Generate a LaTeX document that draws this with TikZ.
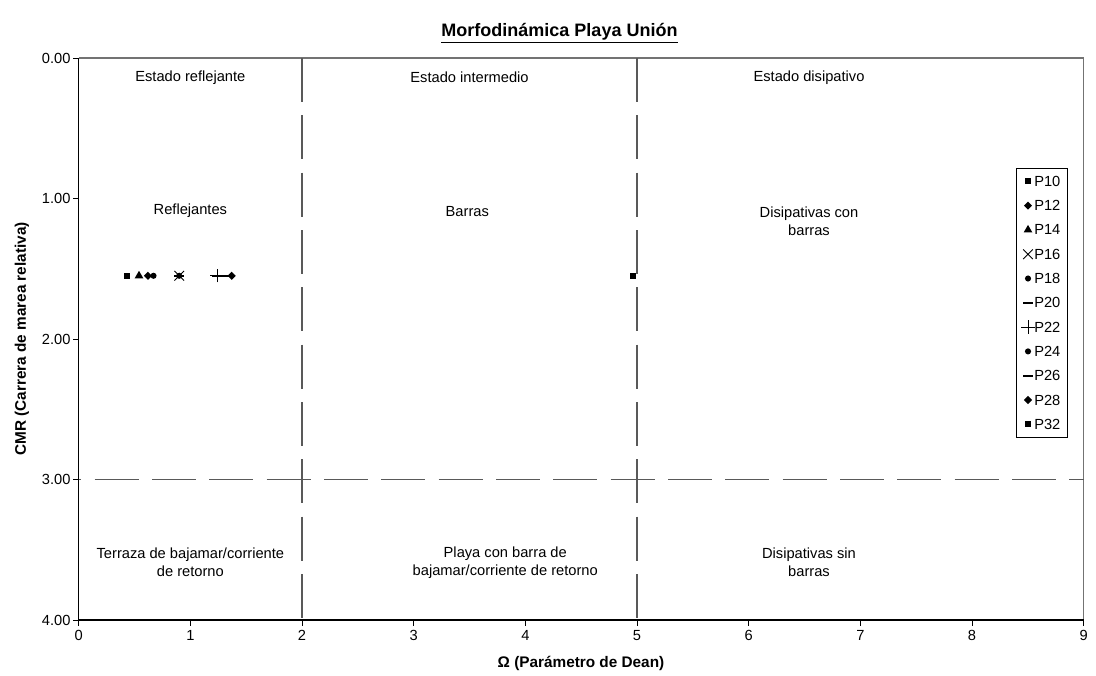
\documentclass[tikz,border=0pt]{standalone}
\usepackage{fontspec}
\setmainfont{Liberation Sans}
\usetikzlibrary{shapes.geometric,shapes.misc}

\begin{document}
\begin{tikzpicture}[x=0.75pt,y=-0.75pt,
  every node/.style={font=\fontsize{11}{13.5}\selectfont,align=center},
  zone/.style={inner sep=1pt},
  divider/.style={draw=black!65,line width=0.9pt,dash pattern=on 33pt off 10pt},
  mksq/.style={rectangle,fill,inner sep=0,minimum size=4.5pt},
  mkdi/.style={diamond,fill,inner sep=0,minimum size=6.3pt},
  mktri/.style={regular polygon,regular polygon sides=3,fill,inner sep=0,minimum size=7.5pt},
  mkx/.style={cross out,draw,line width=0.7pt,inner sep=0,minimum size=6.5pt},
  mkplus/.style={cross out,draw,line width=0.6pt,inner sep=0,minimum size=6.5pt,rotate=45},
  mkci/.style={circle,fill,inner sep=0,minimum size=4.6pt},
  mkdash/.style={rectangle,fill,inner sep=0,minimum width=7.5pt,minimum height=1.4pt}]
\useasboundingbox (0,0) rectangle (1096,675);

% title and axis names
\node[font=\fontsize{13.5}{16}\selectfont\bfseries] (title) at (559.5,33) {\underline{Morfodinámica Playa Unión}};
\node[font=\fontsize{11.5}{14}\selectfont\bfseries] (xname) at (581,663) {Ω (Parámetro de Dean)};
\node[font=\fontsize{11.5}{14}\selectfont\bfseries,rotate=90] (yname) at (22,339) {CMR (Carrera de marea relativa)};

\begin{scope}[shift={(78.7,58)},x=83.75pt,y=-105.375pt]
  % frame and axes
  \draw[black!55,line width=0.8pt] (0,0) -- (9,0) -- (9,4);
  \draw[line width=0.8pt] (0,0) -- (0,4) -- (9,4);
  \foreach \c/\t in {0/0.00,1/1.00,2/2.00,3/3.00,4/4.00}
    \draw (0,\c) -- ++(-4.5pt,0) node[left,inner sep=1.5pt] (ytick-\c) {\t};
  \foreach \v in {0,...,9}
    \draw (\v,4) -- ++(0,-4.5pt) node[below,inner sep=3pt] (xtick-\v) {\v};

  % zone borders
  \draw[divider] (2,0) -- (2,4);
  \draw[divider] (5,0) -- (5,4);
  \draw[divider,dash phase=-12pt] (0,3) -- (9,3);

  % zone labels
  \node[zone] (refl-state) at (1,0.14) {Estado reflejante};
  \node[zone] (inter-state) at (3.5,0.14) {Estado intermedio};
  \node[zone] (disip-state) at (6.54,0.14) {Estado disipativo};
  \node[zone] (refl) at (1,1.09) {Reflejantes};
  \node[zone] (bars) at (3.48,1.09) {Barras};
  \node[zone] (disip-bars) at (6.54,1.16) {Disipativas con\\barras};
  \node[zone] (terrace) at (1,3.59) {Terraza de bajamar/corriente\\de retorno};
  \node[zone] (beach-bar) at (3.82,3.59) {Playa con barra de\\bajamar/corriente de retorno};
  \node[zone] (disip-nobars) at (6.54,3.59) {Disipativas sin\\barras};

  % profiles
  \node[mksq] (P10) at (0.43,1.55) {};
  \node[mktri] (P14) at (0.54,1.55) {};
  \node[mkdi] (P12) at (0.62,1.55) {};
  \node[mkci] (P18) at (0.67,1.55) {};
  \node[mkdash] (P20) at (0.90,1.55) {};
  \node[mkx] (P16) at (0.90,1.55) {};
  \node[mkci] (P24) at (0.90,1.55) {};
  \node[mkplus] (P22) at (1.24,1.55) {};
  \node[mkdash] (P26) at (1.24,1.55) {};
  \node[mkdi] (P28) at (1.37,1.55) {};
  \node[mkdash] (P28b) at (1.33,1.55) {};
  \node[mksq] (P32) at (4.96,1.55) {};
\end{scope}

% legend
\node[draw,minimum width=38pt,minimum height=202pt,inner sep=0] (legend) at (1041.5,302.5) {};
\foreach \s/\p [count=\i] in {mksq/P10,mkdi/P12,mktri/P14,mkx/P16,mkci/P18,mkdash/P20,mkplus/P22,mkci/P24,mkdash/P26,mkdi/P28,mksq/P32}{
  \node[\s] (leg-mk-\i) at (1028,157+24.3*\i) {};
  \node[anchor=west,inner sep=0] (leg-\i) at (1034,157+24.3*\i) {\p};
}
\end{tikzpicture}
\end{document}
